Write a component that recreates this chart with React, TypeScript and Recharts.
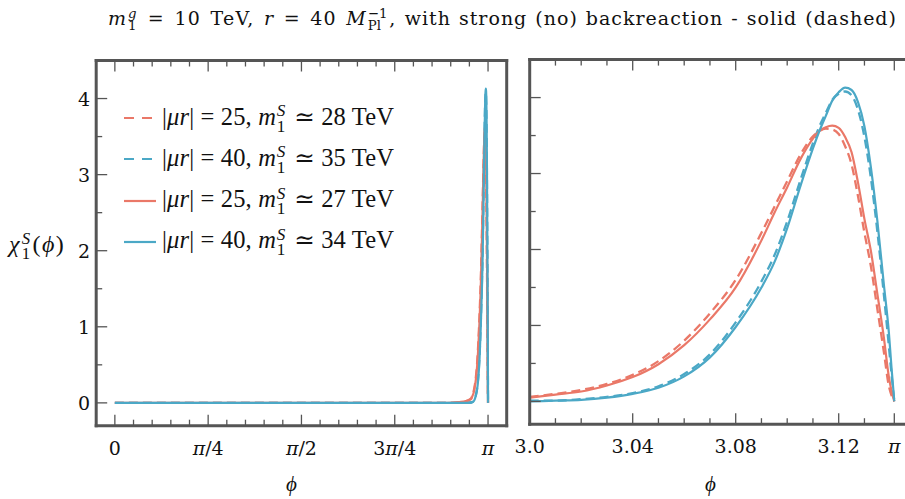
import React from 'react';
import { LineChart, Line, XAxis, YAxis } from 'recharts';

const PI = Math.PI;

// peak region (seen in both panels)
const phiPeak = [3.0, 3.01, 3.02, 3.03, 3.04, 3.05, 3.06, 3.07, 3.08, 3.09, 3.095, 3.1, 3.105, 3.11, 3.1125, 3.115, 3.1175, 3.12, 3.1225, 3.125, 3.1275, 3.13, 3.1325, 3.135, 3.1375, 3.1395, 3.1405, PI];
const redSolid = [0.05, 0.09, 0.13, 0.21, 0.32, 0.49, 0.74, 1.08, 1.5, 2.12, 2.48, 2.82, 3.18, 3.46, 3.56, 3.61, 3.63, 3.6, 3.48, 3.28, 2.88, 2.4, 1.98, 1.42, 0.85, 0.32, 0.14, 0];
const redDashed = [0.06, 0.1, 0.15, 0.23, 0.35, 0.53, 0.8, 1.16, 1.6, 2.22, 2.56, 2.9, 3.24, 3.49, 3.56, 3.59, 3.58, 3.52, 3.36, 3.12, 2.7, 2.22, 1.78, 1.22, 0.66, 0.2, 0.08, 0];
const blueSolid = [0.0, 0.01, 0.02, 0.05, 0.1, 0.18, 0.33, 0.58, 0.98, 1.5, 1.83, 2.28, 2.82, 3.33, 3.56, 3.76, 3.96, 4.07, 4.13, 4.1, 3.94, 3.62, 3.08, 2.38, 1.55, 0.9, 0.45, 0];
const blueDashed = [0.01, 0.01, 0.03, 0.06, 0.11, 0.2, 0.36, 0.62, 1.04, 1.58, 1.92, 2.37, 2.9, 3.4, 3.62, 3.8, 3.97, 4.05, 4.08, 4.03, 3.84, 3.48, 2.94, 2.24, 1.42, 0.72, 0.36, 0];

// flat part, only in the left panel
const phiFlat = [0, 0.5, 1.0, 1.5, 2.0, 2.5, 2.8, 2.9, 2.95];
const redFlat = [0, 0, 0, 0, 0, 0, 0, 0.01, 0.02];
const blueFlat = [0, 0, 0, 0, 0, 0, 0, 0, 0];

const seriesMu = ['25', '40', '25', '40'];
const seriesMass = ['28', '35', '27', '34'];

const leftTicks = [0, PI / 4, PI / 2, (3 * PI) / 4, PI];
const leftTickLabels = ['0', 'π/4', 'π/2', '3π/4', 'π'];
const rightTicks = [3.0, 3.04, 3.08, 3.12, PI];
const rightTickLabels = ['3.0', '3.04', '3.08', '3.12', 'π'];
const yTicks = [0, 1, 2, 3, 4];
const yTickLabels = ['0', '1', '2', '3', '4'];

const RED = '#ea7868';
const BLUE = '#4ba8c6';
const FRAME = '#555';
const FONT = '"DejaVu Serif", "Liberation Serif", serif';
const SERIF = '"Liberation Serif", "DejaVu Serif", serif';

const peakRows = phiPeak.map((phi, i) => ({
  phi,
  rd: redDashed[i],
  bd: blueDashed[i],
  rs: redSolid[i],
  bs: blueSolid[i],
}));
const flatRows = phiFlat.map((phi, i) => ({
  phi,
  rd: redFlat[i],
  bd: blueFlat[i],
  rs: redFlat[i],
  bs: blueFlat[i],
}));
const leftData = [...flatRows, ...peakRows];

const leftMinor = Array.from({ length: 21 }, (_, i) => (i * PI) / 20);
const rightMinor = Array.from({ length: 14 }, (_, i) => 3.0 + i * 0.01);
const yMinor = Array.from({ length: 9 }, (_, i) => i * 0.5);

const findMajor = (v: number, majors: number[]) => majors.findIndex((m) => Math.abs(m - v) < 1e-6);

const renderPiLabel = (s: string) =>
  s.split('').map((c, k) =>
    c === 'π' ? (
      <tspan key={k} fontStyle="italic">
        π
      </tspan>
    ) : (
      <tspan key={k}>{c}</tspan>
    )
  );

const makeXTick = (majors: number[], labels: string[], side: 'top' | 'bottom') => (props: any) => {
  const { x, y, payload } = props;
  const i = findMajor(payload.value, majors);
  const len = i >= 0 ? 11 : 6;
  const dir = side === 'bottom' ? -1 : 1;
  return (
    <g>
      <line x1={x} x2={x} y1={y} y2={y + dir * len} stroke={FRAME} strokeWidth={1.3} />
      {side === 'bottom' && i >= 0 && (
        <text x={x} y={y + 29} textAnchor="middle" fontFamily={FONT} fontSize={19} fill="#111">
          {renderPiLabel(labels[i])}
        </text>
      )}
    </g>
  );
};

const makeYTick = (side: 'left' | 'right', showLabels: boolean) => (props: any) => {
  const { x, y, payload } = props;
  const i = findMajor(payload.value, yTicks);
  const len = i >= 0 ? 11 : 6;
  const dir = side === 'left' ? 1 : -1;
  return (
    <g>
      <line x1={x} x2={x + dir * len} y1={y} y2={y} stroke={FRAME} strokeWidth={1.3} />
      {showLabels && side === 'left' && i >= 0 && (
        <text x={x - 6} y={y + 7} textAnchor="end" fontFamily={FONT} fontSize={19} fill="#111">
          {yTickLabels[i]}
        </text>
      )}
    </g>
  );
};

const frameLine = { stroke: FRAME, strokeWidth: 3, strokeLinecap: 'square' as const };

const SupSub = ({ sup, sub }: { sup: React.ReactNode; sub: React.ReactNode }) => (
  <span
    style={{
      display: 'inline-flex',
      flexDirection: 'column',
      fontSize: '0.7em',
      lineHeight: 0.9,
      verticalAlign: '0.5em',
      marginLeft: '0.05em',
      marginRight: '0.15em',
      letterSpacing: 0,
    }}
  >
    <span>{sup}</span>
    <span>{sub}</span>
  </span>
);

const Series = () => [
  <Line key="rd" dataKey="rd" stroke={RED} strokeWidth={2.3} strokeDasharray="9 5" dot={false} type="monotone" isAnimationActive={false} />,
  <Line key="bd" dataKey="bd" stroke={BLUE} strokeWidth={2.3} strokeDasharray="9 5" dot={false} type="monotone" isAnimationActive={false} />,
  <Line key="rs" dataKey="rs" stroke={RED} strokeWidth={2.2} dot={false} type="monotone" isAnimationActive={false} />,
  <Line key="bs" dataKey="bs" stroke={BLUE} strokeWidth={2.2} dot={false} type="monotone" isAnimationActive={false} />,
];

export default function App() {
  const legendStyles = [
    { color: RED, dash: true },
    { color: BLUE, dash: true },
    { color: RED, dash: false },
    { color: BLUE, dash: false },
  ];
  const rowY = [118, 159, 200.5, 241.5];
  return (
    <div style={{ position: 'fixed', left: 0, top: 0, width: 905, height: 499, overflow: 'hidden', background: '#fff', fontFamily: FONT, color: '#111' }}>
      {/* left panel */}
      <div style={{ position: 'absolute', left: 0, top: 0 }}>
        <LineChart width={520} height={499} data={leftData} margin={{ top: 59.5, left: 95.2, right: 12.3, bottom: 72.3 }}>
          <XAxis dataKey="phi" type="number" domain={[-PI / 20, (21 * PI) / 20]} ticks={leftMinor} interval={0} height={1} tickSize={0} tickMargin={0} axisLine={frameLine} tickLine={false} tick={makeXTick(leftTicks, leftTickLabels, 'bottom')} />
          <XAxis xAxisId="top" orientation="top" dataKey="phi" type="number" domain={[-PI / 20, (21 * PI) / 20]} ticks={leftMinor} interval={0} height={1} tickSize={0} tickMargin={0} axisLine={frameLine} tickLine={false} tick={makeXTick(leftTicks, leftTickLabels, 'top')} />
          <YAxis type="number" domain={[-0.3, 4.5]} ticks={yMinor} interval={0} width={1} tickSize={0} tickMargin={0} axisLine={frameLine} tickLine={false} tick={makeYTick('left', true)} />
          <YAxis yAxisId="right" orientation="right" type="number" domain={[-0.3, 4.5]} ticks={yMinor} interval={0} width={1} tickSize={0} tickMargin={0} axisLine={frameLine} tickLine={false} tick={makeYTick('right', false)} />
          {Series()}
        </LineChart>
      </div>
      {/* right panel (zoom on the peak) */}
      <div style={{ position: 'absolute', left: 440, top: 0 }}>
        <LineChart width={500} height={499} data={peakRows} margin={{ top: 58.6, left: 88.7, right: 28.2, bottom: 73.8 }}>
          <XAxis dataKey="phi" type="number" domain={[3.0, 3.148]} ticks={[...rightMinor, PI]} interval={0} height={1} tickSize={0} tickMargin={0} axisLine={frameLine} tickLine={false} tick={makeXTick(rightTicks, rightTickLabels, 'bottom')} />
          <XAxis xAxisId="top" orientation="top" dataKey="phi" type="number" domain={[3.0, 3.148]} ticks={[...rightMinor, PI]} interval={0} height={1} tickSize={0} tickMargin={0} axisLine={frameLine} tickLine={false} tick={makeXTick(rightTicks, rightTickLabels, 'top')} />
          <YAxis type="number" domain={[-0.3, 4.5]} ticks={yMinor} interval={0} width={1} tickSize={0} tickMargin={0} axisLine={frameLine} tickLine={false} tick={makeYTick('left', false)} />
          <YAxis yAxisId="right" orientation="right" type="number" domain={[-0.3, 4.5]} ticks={yMinor} interval={0} width={1} tickSize={0} tickMargin={0} axisLine={frameLine} tickLine={false} tick={makeYTick('right', false)} />
          {Series()}
        </LineChart>
      </div>

      {/* title */}
      <div style={{ position: 'absolute', left: 108, top: 7, fontSize: 19, letterSpacing: 1.3, wordSpacing: 2, whiteSpace: 'nowrap' }}>
        <i>m</i>
        <SupSub sup={<i>g</i>} sub="1" /> = 10 TeV, <i>r</i> = 40 <i>M</i>
        <SupSub sup="−1" sub="Pl" />,<span style={{ letterSpacing: 1.0, wordSpacing: 1 }}> with strong (no) backreaction - solid (dashed)</span>
      </div>

      {/* legend */}
      {legendStyles.map((s, i) => (
        <div key={i} style={{ position: 'absolute', left: 123, top: rowY[i] - 16, height: 32, display: 'flex', alignItems: 'center', whiteSpace: 'nowrap', fontSize: 24.5, fontFamily: SERIF, letterSpacing: 0.15 }}>
          <svg width={34} height={32} style={{ marginRight: 5 }}>
            <line x1={1} x2={33} y1={16} y2={16} stroke={s.color} strokeWidth={2.2} strokeDasharray={s.dash ? '10 8' : undefined} />
          </svg>
          <span>
            |<i>μr</i>| = {seriesMu[i]}, <i>m</i>
            <SupSub sup={<i>S</i>} sub="1" /> ≃ {seriesMass[i]} TeV
          </span>
        </div>
      ))}

      {/* axis labels */}
      <div style={{ position: 'absolute', left: 9, top: 231, fontSize: 24, whiteSpace: 'nowrap', fontFamily: SERIF, letterSpacing: 1.3 }}>
        <i>χ</i>
        <SupSub sup={<i>S</i>} sub="1" />(<i>ϕ</i>)
      </div>
      <div style={{ position: 'absolute', left: 286, top: 472, fontSize: 21, fontFamily: SERIF }}>
        <i>ϕ</i>
      </div>
      <div style={{ position: 'absolute', left: 705, top: 472, fontSize: 21, fontFamily: SERIF }}>
        <i>ϕ</i>
      </div>
    </div>
  );
}
